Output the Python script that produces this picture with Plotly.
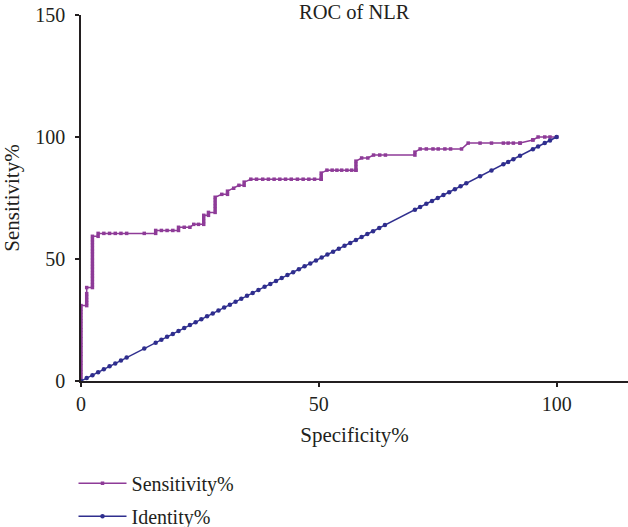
import plotly.graph_objects as go

# ROC of NLR: x = "Specificity%" axis value (100 - specificity), y = sensitivity
roc_x = [0, 0, 0, 0, 0, 0, 0, 0, 0, 0, 0, 0, 0, 0, 0, 0, 0, 0, 0, 0, 0, 0, 0, 0, 0, 0,
         1.2, 1.2, 1.2, 1.2, 1.2, 1.2,
         2.4, 2.4, 2.4, 2.4, 2.4, 2.4, 2.4, 2.4, 2.4, 2.4, 2.4, 2.4, 2.4, 2.4, 2.4, 2.4, 2.4, 2.4,
         3.6, 3.6, 4.8, 6.0, 7.2, 8.4, 9.6, 13.3, 15.7, 15.7, 16.9, 18.1, 19.3, 20.5, 20.5,
         21.7, 22.9, 23.7, 24.7, 25.8, 25.8, 25.8, 25.8, 26.8, 26.8, 28.2, 28.2, 28.2, 28.2,
         28.2, 28.2, 29.6, 30.8, 30.8, 32.1, 33.2, 34.3, 34.3,
         35.7, 36.9, 38.2, 39.4, 40.6, 41.8, 43.0, 44.2, 45.5, 46.7, 47.9, 49.1, 50.5, 50.5, 50.5, 50.5,
         51.7, 52.8, 53.8, 54.8, 55.9, 56.9, 57.8, 57.8, 57.8, 57.8, 57.8, 59.0, 60.3,
         61.5, 62.8, 64.0, 70.2, 70.2, 71.3, 72.6, 74.0, 75.1, 76.5, 77.7, 80.0,
         81.4, 83.9, 86.3, 88.8, 89.8, 90.9, 92.3, 92.3, 95.0, 95.0, 96.1, 97.5, 98.6, 100]
roc_y = [0, 1.2, 2.5, 3.7, 4.9, 6.2, 7.4, 8.6, 9.9, 11.1, 12.3, 13.6, 14.8, 16.0, 17.3, 18.5,
         19.8, 21.0, 22.2, 23.5, 24.7, 25.9, 27.2, 28.4, 29.6, 30.9,
         30.9, 32.1, 33.3, 34.6, 35.8, 38.3,
         38.3, 39.5, 40.7, 42.0, 43.2, 44.4, 45.7, 46.9, 48.1, 49.4, 50.6, 51.9, 53.1, 54.3, 55.6, 56.8, 58.0, 59.3,
         59.3, 60.5, 60.5, 60.5, 60.5, 60.5, 60.5, 60.5, 60.5, 61.7, 61.7, 61.7, 61.7, 61.7, 63.0,
         63.0, 63.0, 64.2, 64.2, 64.2, 65.4, 66.7, 67.9, 67.9, 69.1, 69.1, 70.4, 71.6, 72.8, 74.1,
         75.3, 76.5, 76.5, 77.8, 79.0, 80.2, 80.2, 81.5, 82.7,
         82.7, 82.7, 82.7, 82.7, 82.7, 82.7, 82.7, 82.7, 82.7, 82.7, 82.7, 82.7, 82.7, 84.0, 85.2, 86.4,
         86.4, 86.4, 86.4, 86.4, 86.4, 86.4, 86.4, 87.7, 88.9, 90.1, 91.4, 91.4, 92.6,
         92.6, 92.6, 92.6, 93.8, 95.1, 95.1, 95.1, 95.1, 95.1, 95.1, 95.1, 97.5,
         97.5, 97.5, 97.5, 97.5, 97.5, 97.5, 97.5, 98.8, 98.8, 100, 100, 100, 100, 100]

identity_pts = [0, 1.2, 2.4, 3.6, 4.8, 6.0, 7.2, 8.4, 9.6, 13.3, 15.7, 16.9, 18.1, 19.3, 20.5,
                21.7, 22.9, 24.1, 25.3, 26.5, 27.7, 28.9, 30.1, 31.3, 32.5, 33.7, 34.9, 36.1,
                37.3, 38.6, 39.8, 41.0, 42.2, 43.4, 44.6, 45.8, 47.0, 48.2, 49.4, 50.6, 51.8,
                53.0, 54.2, 55.4, 56.6, 57.8, 59.0, 60.2, 61.4, 62.7, 63.9, 70.2, 71.3, 72.6,
                73.8, 75.0, 76.2, 77.4, 78.6, 79.8, 81.0, 83.9, 86.3, 88.8, 89.8, 90.9, 92.3,
                95.0, 96.1, 97.5, 98.6, 100]

x_ticks = [0, 50, 100]
y_ticks = [0, 50, 100, 150]

PURPLE = "#8E3B98"
NAVY = "#2F2E8E"
INK = "#231F20"
FONT = "Liberation Serif"

fig = go.Figure()
fig.add_trace(go.Scatter(
    x=roc_x, y=roc_y, mode="lines+markers", name="Sensitivity%",
    line=dict(color=PURPLE, width=1.5),
    marker=dict(color=PURPLE, size=3.5, symbol="square"),
    cliponaxis=False, legendgroup="a",
))
fig.add_trace(go.Scatter(
    x=identity_pts, y=identity_pts, mode="lines+markers", name="Identity%",
    line=dict(color=NAVY, width=1.5),
    marker=dict(color=NAVY, size=4.5, symbol="circle"),
    cliponaxis=False, legendgroup="b",
))

fig.update_layout(
    width=628, height=527,
    margin=dict(l=81, r=0, t=15, b=146),
    paper_bgcolor="white", plot_bgcolor="white",
    font=dict(family=FONT, size=20, color=INK),
    showlegend=True,
    legend=dict(x=-0.0137, xanchor="left", yref="container", y=0.12, yanchor="top",
                tracegroupgap=4, font=dict(size=20), itemwidth=48,
                bgcolor="rgba(0,0,0,0)"),
    annotations=[dict(text="ROC of NLR", xref="paper", yref="paper", x=0.5, y=1,
                      yanchor="middle", yshift=3, showarrow=False,
                      font=dict(family=FONT, size=20.5, color=INK))],
)
fig.update_xaxes(
    range=[0, 115], tickvals=x_ticks, showgrid=False, zeroline=False,
    showline=True, linecolor=INK, linewidth=1.5,
    ticks="outside", ticklen=4, tickwidth=1.5, tickcolor=INK,
    ticklabelstandoff=0, tickfont=dict(size=20),
    title=dict(text="Specificity%", standoff=14, font=dict(size=21)),
)
fig.update_yaxes(
    range=[0, 150], tickvals=y_ticks, showgrid=False, zeroline=False,
    showline=True, linecolor=INK, linewidth=1.5,
    ticks="outside", ticklen=4, tickwidth=1.5, tickcolor=INK,
    ticklabelstandoff=6, tickfont=dict(size=20),
    title=dict(text="Sensitivity%", standoff=11, font=dict(size=21)),
)

fig.write_html("out.html", config={"displayModeBar": False},
               post_script="document.body.style.margin='0px';")
